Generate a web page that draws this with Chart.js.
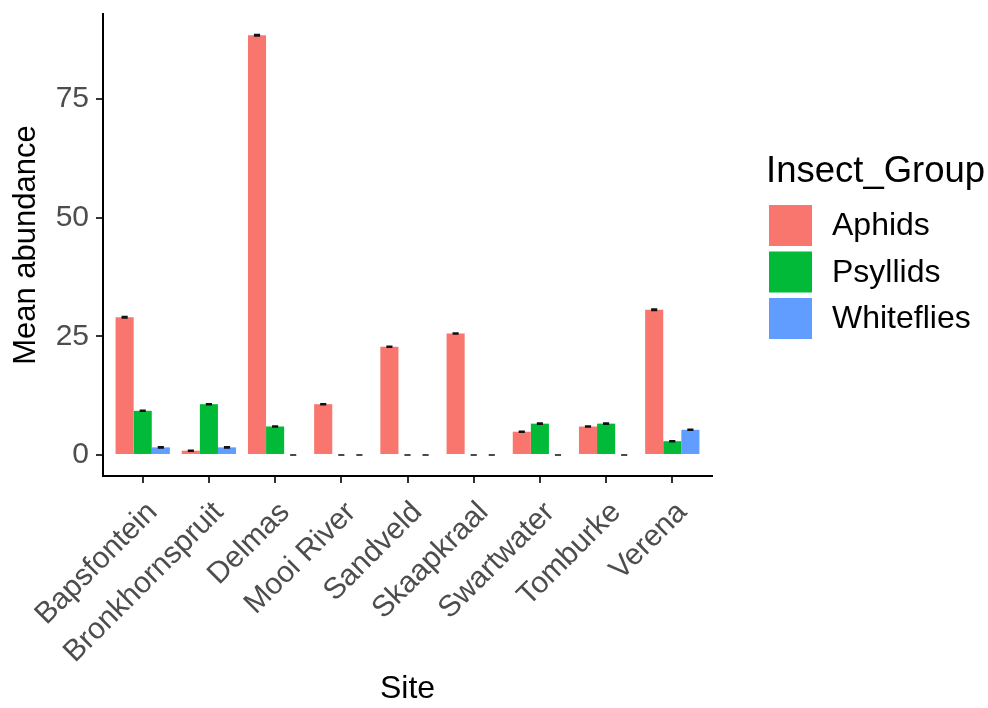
<!DOCTYPE html>
<html>
<head>
<meta charset="utf-8">
<title>Mean abundance by site</title>
<script src="https://cdn.jsdelivr.net/npm/chart.js@4.4.1/dist/chart.umd.min.js"></script>
<style>
  html, body { margin: 0; padding: 0; background: #ffffff; }
  #wrap { position: relative; width: 988px; height: 708px; }
</style>
</head>
<body>
<div id="wrap"><canvas id="chart" width="988" height="708"></canvas></div>
<script>
// Sites on the x axis
const sites = ['Bapsfontein', 'Bronkhornspruit', 'Delmas', 'Mooi River', 'Sandveld',
               'Skaapkraal', 'Swartwater', 'Tomburke', 'Verena'];

// Insect groups (fill legend)
const groups = ['Aphids', 'Psyllids', 'Whiteflies'];
const groupColors = ['#F8766D', '#00BA38', '#619CFF'];

// Mean abundance per site, one array per insect group
const aphids     = [29.0, 0.9, 88.4, 10.7, 22.8, 25.6, 4.9, 6.0, 30.6];
const psyllids   = [9.3, 10.7, 6.0, 0, 0, 0, 6.6, 6.6, 2.9];
const whiteflies = [1.6, 1.6, 0, 0, 0, 0, 0, 0, 5.3];

// Standard errors of the means
const aphidsSE     = [0.15, 0.1, 0.15, 0.1, 0.1, 0.1, 0.1, 0.1, 0.15];
const psyllidsSE   = [0.1, 0.1, 0.1, 0, 0, 0, 0.1, 0.1, 0.1];
const whitefliesSE = [0.1, 0.1, 0, 0, 0, 0, 0, 0, 0.1];

// Y axis tick values
const yTicks = [0, 25, 50, 75];

const FONT = '"Liberation Sans", Arial, Helvetica, sans-serif';
Chart.defaults.font.family = FONT;

const seriesValues = [aphids, psyllids, whiteflies];
const seriesSE = [aphidsSE, psyllidsSE, whitefliesSE];

const datasets = groups.map((name, g) => ({
  label: name,
  data: sites.map((s, i) => ({ x: i + 1, y: seriesValues[g][i] })),
  se: seriesSE[g],
  backgroundColor: groupColors[g],
  borderWidth: 0,
  categoryPercentage: 0.82,
  barPercentage: 1.0
}));

// Mean ± SE whiskers on top of every bar
const errorBars = {
  id: 'errorBars',
  afterDatasetsDraw(chart, args, opts) {
    const ctx = chart.ctx;
    const yScale = chart.scales.y;
    ctx.save();
    ctx.strokeStyle = opts.color;
    ctx.lineWidth = opts.lineWidth;
    chart.data.datasets.forEach((ds, di) => {
      const meta = chart.getDatasetMeta(di);
      meta.data.forEach((bar, j) => {
        const v = ds.data[j].y;
        const e = ds.se[j];
        const hw = bar.width * opts.capRatio / 2;
        const yHi = yScale.getPixelForValue(v + e);
        const yLo = yScale.getPixelForValue(v - e);
        ctx.beginPath();
        ctx.moveTo(bar.x - hw, yHi); ctx.lineTo(bar.x + hw, yHi);
        ctx.moveTo(bar.x - hw, yLo); ctx.lineTo(bar.x + hw, yLo);
        ctx.moveTo(bar.x, yHi); ctx.lineTo(bar.x, yLo);
        ctx.stroke();
      });
    });
    ctx.restore();
  }
};

// Fill legend drawn to the right of the panel
const sideLegend = {
  id: 'sideLegend',
  afterDraw(chart, args, opts) {
    const ctx = chart.ctx;
    ctx.save();
    ctx.fillStyle = '#000000';
    ctx.textAlign = 'left';
    ctx.textBaseline = 'alphabetic';
    ctx.font = opts.titleSize + 'px ' + FONT;
    ctx.fillText(opts.title, opts.x, opts.titleBaseline);
    chart.data.datasets.forEach((ds, i) => {
      const top = opts.firstKeyTop + i * opts.keyPitch;
      ctx.fillStyle = ds.backgroundColor;
      ctx.fillRect(opts.keyX, top, opts.keyW, opts.keyH);
      ctx.fillStyle = '#000000';
      ctx.font = opts.labelSize + 'px ' + FONT;
      ctx.textBaseline = 'middle';
      ctx.fillText(ds.label, opts.labelX, top + opts.keyH / 2 + 1);
    });
    ctx.restore();
  }
};

const axisGrid = {
  display: true,
  drawOnChartArea: false,
  drawTicks: true,
  tickLength: 7,
  lineWidth: 2,
  color: '#333333',
  offset: false
};
const axisBorder = { display: true, color: '#000000', width: 2 };

new Chart(document.getElementById('chart'), {
  type: 'bar',
  data: { datasets },
  plugins: [errorBars, sideLegend],
  options: {
    responsive: false,
    animation: false,
    layout: { padding: { top: 14, right: 276, bottom: 0, left: 0 } },
    plugins: {
      legend: { display: false },
      tooltip: { enabled: false },
      errorBars: { color: '#111111', lineWidth: 1.6, capRatio: 0.34 },
      sideLegend: {
        title: 'Insect_Group', titleSize: 36.5, titleBaseline: 182,
        x: 766, keyX: 769, firstKeyTop: 205, keyPitch: 46.5, keyW: 43, keyH: 41,
        labelX: 832, labelSize: 32
      }
    },
    scales: {
      x: {
        type: 'linear',
        min: 0.4,
        max: 9.6,
        offset: false,
        afterBuildTicks: (scale) => { scale.ticks = sites.map((s, i) => ({ value: i + 1 })); },
        afterFit: (scale) => {
          scale.height = 232;
          scale.paddingLeft = 0;
          scale.paddingRight = 0;
        },
        grid: axisGrid,
        border: axisBorder,
        ticks: {
          autoSkip: false,
          minRotation: 45,
          maxRotation: 45,
          padding: 12,
          labelOffset: 10,
          color: '#4D4D4D',
          font: { size: 30 },
          callback: (v) => sites[v - 1]
        },
        title: {
          display: true,
          text: 'Site',
          color: '#000000',
          font: { size: 32 },
          padding: { top: 0, bottom: 0 }
        }
      },
      y: {
        min: -4.43,
        max: 92.9,
        afterBuildTicks: (scale) => { scale.ticks = yTicks.map(v => ({ value: v })); },
        afterFit: (scale) => {
          scale.width = 103;
          scale.paddingTop = 0;
          scale.paddingBottom = 0;
        },
        grid: axisGrid,
        border: axisBorder,
        ticks: {
          padding: 7,
          color: '#4D4D4D',
          font: { size: 30 }
        },
        title: {
          display: true,
          text: 'Mean abundance',
          color: '#000000',
          font: { size: 31 },
          padding: { top: 8, bottom: 0 }
        }
      }
    }
  }
});
</script>
</body>
</html>
